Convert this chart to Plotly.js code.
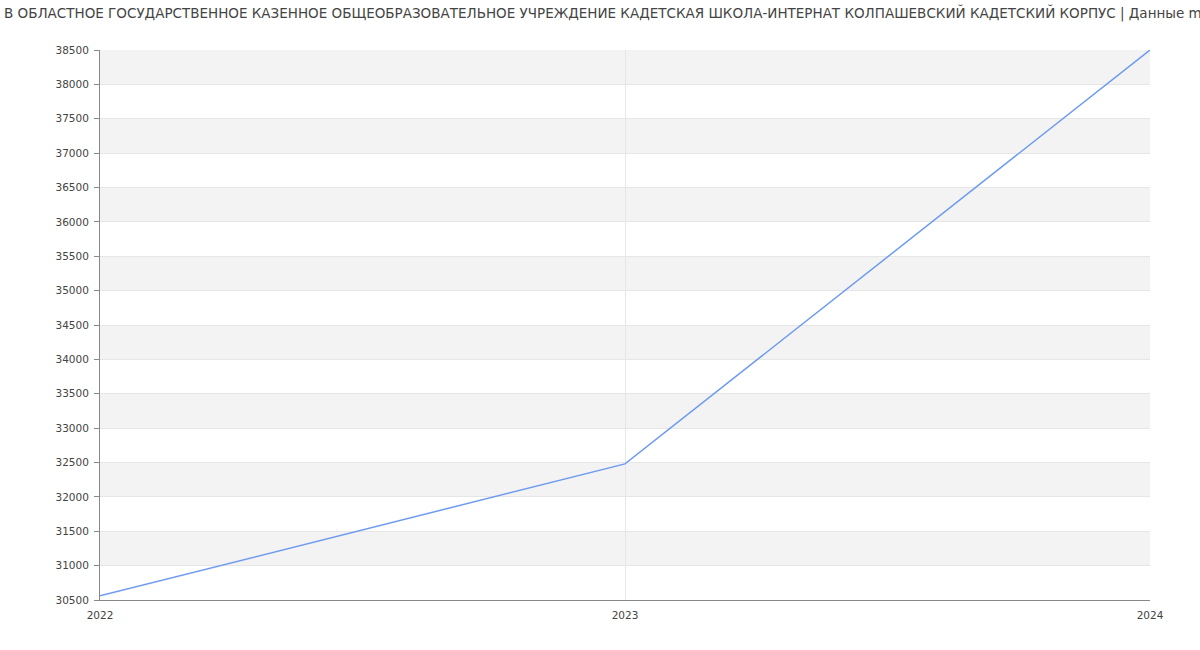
<!DOCTYPE html>
<html>
<head>
<meta charset="utf-8">
<script src="https://cdn.plot.ly/plotly-3.0.1.min.js"></script>
<style>html,body{margin:0;padding:0;background:#fff;}#chart{width:1200px;height:650px;}</style>
</head>
<body>
<div id="chart"></div>
<script>
const years = ['2022', '2023', '2024'];
const salary = [30560, 32480, 38500];
const yTicks = [30500, 31000, 31500, 32000, 32500, 33000, 33500, 34000, 34500, 35000, 35500, 36000, 36500, 37000, 37500, 38000, 38500];
const titleText = 'В ОБЛАСТНОЕ ГОСУДАРСТВЕННОЕ КАЗЕННОЕ ОБЩЕОБРАЗОВАТЕЛЬНОЕ УЧРЕЖДЕНИЕ КАДЕТСКАЯ ШКОЛА-ИНТЕРНАТ КОЛПАШЕВСКИЙ КАДЕТСКИЙ КОРПУС | Данные mintrud.ru';

const shapes = [];
for (let i = 1; i + 1 < yTicks.length; i += 2) {
  shapes.push({type: 'rect', xref: 'paper', yref: 'y', x0: 0, x1: 1, y0: yTicks[i], y1: yTicks[i + 1],
    fillcolor: '#f3f3f3', line: {width: 0}, layer: 'below'});
}

const trace = {
  x: years.map(Number), y: salary, type: 'scatter', mode: 'lines',
  line: {color: '#6f9bef', width: 1.5}, hoverinfo: 'x+y'
};

const layout = {
  width: 1200, height: 650,
  margin: {l: 100, r: 50, t: 50, b: 50},
  paper_bgcolor: '#fff', plot_bgcolor: '#fff',
  font: {family: 'DejaVu Sans, sans-serif', size: 11, color: '#444'},
  title: {text: titleText, x: 0, xref: 'container', xanchor: 'left', y: 1 - 13 / 650, yref: 'container', yanchor: 'middle',
    pad: {l: 4}, font: {family: 'DejaVu Sans, sans-serif', size: 13.5, color: '#444'}},
  showlegend: false,
  shapes: shapes,
  xaxis: {
    range: [2022, 2024], tickvals: years.map(Number), ticktext: years,
    showgrid: true, gridcolor: '#e6e6e6', gridwidth: 1,
    showline: true, linecolor: '#888', linewidth: 1,
    ticks: '', zeroline: false, fixedrange: true, ticklabelstandoff: 5,
    tickfont: {size: 10.5, color: '#444'}
  },
  yaxis: {
    range: [30500, 38500], tickvals: yTicks, ticktext: yTicks.map(String),
    showgrid: true, gridcolor: '#e6e6e6', gridwidth: 1,
    showline: true, linecolor: '#888', linewidth: 1,
    ticks: 'outside', ticklen: 5, tickcolor: '#888', zeroline: false, fixedrange: true, ticklabelstandoff: 3,
    tickfont: {size: 10.5, color: '#444'}
  }
};

Plotly.newPlot('chart', [trace], layout, {displayModeBar: false, staticPlot: true});
</script>
</body>
</html>
